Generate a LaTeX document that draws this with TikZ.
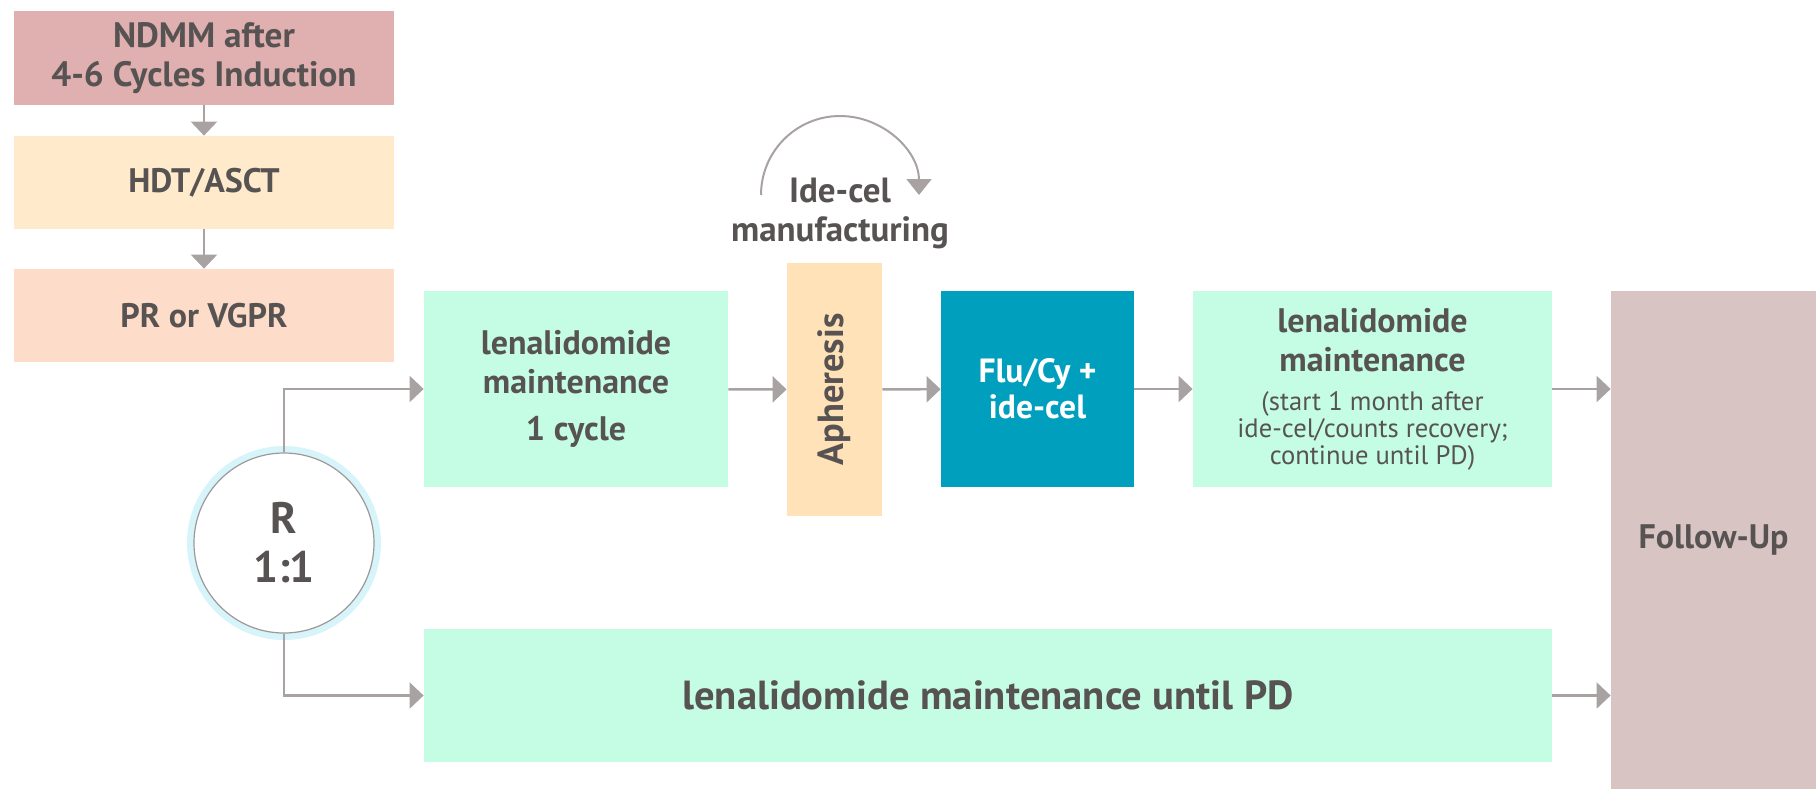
\documentclass[tikz,border=0pt]{standalone}
\usepackage{fontspec}
\setmainfont{PT Sans}
\usepackage{tikz}
\usetikzlibrary{arrows.meta,positioning,calc}
\definecolor{txtgray}{RGB}{88,83,83}
\definecolor{arrgray}{RGB}{168,162,162}
\definecolor{ndmmred}{RGB}{224,175,175}
\definecolor{hdtcream}{RGB}{255,235,204}
\definecolor{prpeach}{RGB}{253,220,201}
\definecolor{lenmint}{RGB}{196,253,227}
\definecolor{aphorange}{RGB}{255,226,183}
\definecolor{flucyteal}{RGB}{0,159,189}
\definecolor{followrose}{RGB}{217,196,196}
\definecolor{ringcyan}{RGB}{214,244,250}
\definecolor{ringgray}{RGB}{158,153,153}
\newcommand{\subtxt}{\mdseries\fontsize{13.3}{14}\selectfont}
\tikzset{
  blk/.style={rectangle, align=center, inner sep=0pt, text=txtgray, font=\fontsize{17}{19.5}\selectfont\bfseries},
  arr/.style={-{Triangle[length=7pt,width=13pt]}, line width=1.2pt, draw=arrgray},
  arcarr/.style={-{Triangle[length=8pt,width=12.5pt]}, line width=1pt, draw=arrgray},
  rnd/.style={circle, draw=ringgray, line width=0.6pt, fill=white, minimum size=90pt, inner sep=0pt, align=center, text=txtgray,
    font=\fontsize{22}{24.5}\selectfont\bfseries, preaction={draw=ringcyan, line width=7pt}},
  lbl/.style={align=center, text=txtgray, font=\fontsize{17.5}{19.5}\selectfont\bfseries}
}
\begin{document}
\begin{tikzpicture}[x=0.5pt,y=-0.5pt]
  \useasboundingbox (0,0) rectangle (1816,789);
  \node[blk, fill=ndmmred, minimum width=190pt, minimum height=47pt, font=\fontsize{17.6}{19.5}\selectfont\bfseries] (ndmm) at (204,58) {NDMM after\\4-6 Cycles Induction};
  \node[blk, fill=hdtcream, minimum width=190pt, minimum height=46.5pt] (hdt) at (204,182.5) {HDT/ASCT};
  \node[blk, fill=prpeach, minimum width=190pt, minimum height=46.5pt] (pr) at (204,315.5) {PR or VGPR};
  \draw[arr] (ndmm) -- (hdt);
  \draw[arr] (hdt) -- (pr);
  \node[rnd] (rand) at (284,543) {R\\1:1};
  \node[blk, fill=lenmint, minimum width=152pt, minimum height=98pt] (len1) at (576,389) {lenalidomide\\maintenance\\[4pt]1 cycle};
  \node[blk, fill=aphorange, minimum width=47.5pt, minimum height=126.5pt, font=\fontsize{18.2}{20}\selectfont\bfseries] (aph) at (834.5,389.5) {\rotatebox{90}{Apheresis}};
  \node[blk, fill=flucyteal, text=white, minimum width=96.5pt, minimum height=98pt, font=\fontsize{16.8}{18}\selectfont\bfseries] (flucy) at (1037.5,389) {Flu/Cy +\\ide-cel};
  \node[blk, fill=lenmint, minimum width=179.5pt, minimum height=98pt] (len2) at (1372.5,389)
    {lenalidomide\\maintenance\\\subtxt (start 1 month after\\[-6pt]\subtxt ide-cel/counts recovery;\\[-6pt]\subtxt continue until PD)};
  \node[blk, fill=followrose, minimum width=102.5pt, minimum height=249pt] (follow) at (1713.5,540) {Follow-Up};
  \node[blk, fill=lenmint, minimum width=564pt, minimum height=66.5pt, font=\fontsize{20.3}{22}\selectfont\bfseries] (lenbot) at (988,695.5) {lenalidomide maintenance until PD};
  \node[lbl] (mfg) at (840,213) {Ide-cel\\manufacturing};
  \coordinate (mfgstart) at (761,195);
  \draw[arr] (rand.north) |- (len1.west);
  \draw[arr] (rand.south) |- (lenbot.west);
  \draw[arr] (len1) -- (aph);
  \draw[arr] (aph) -- (flucy);
  \draw[arr] (flucy) -- (len2);
  \draw[arr] (len2.east) -- (len2.east -| follow.west);
  \draw[arr] (lenbot.east) -- (lenbot.east -| follow.west);
  \draw[arcarr] (mfgstart) arc[start angle=180, end angle=0, radius=39.5pt];
\end{tikzpicture}
\end{document}
